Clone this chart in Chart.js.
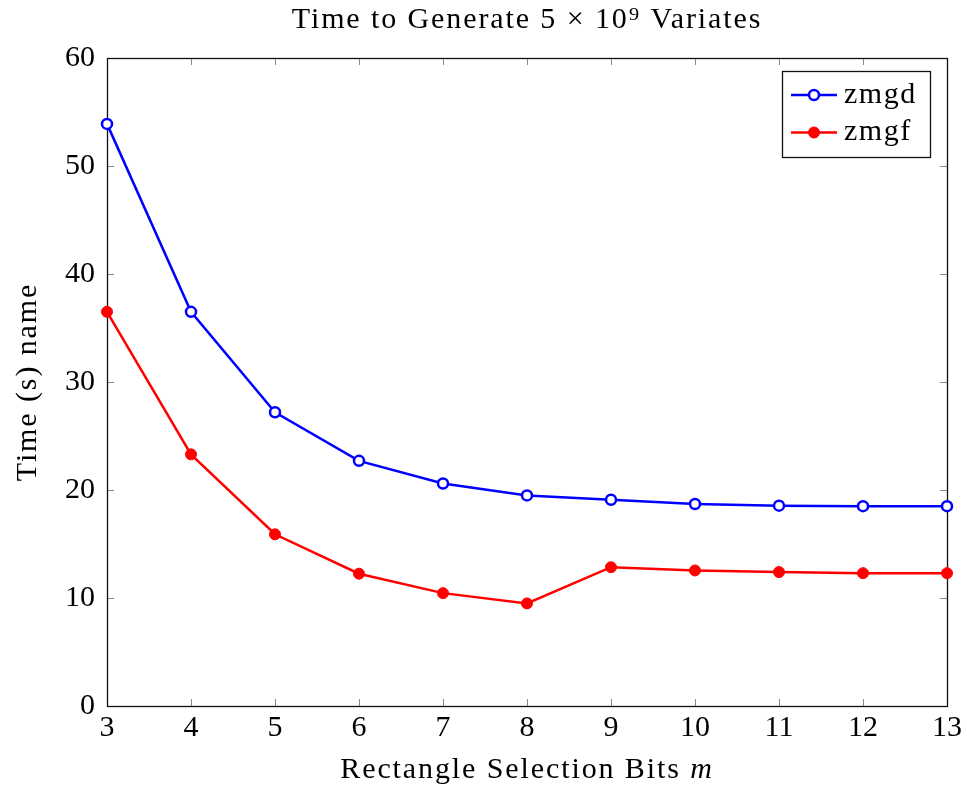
<!DOCTYPE html>
<html>
<head>
<meta charset="utf-8">
<script src="https://cdn.jsdelivr.net/npm/chart.js@4/dist/chart.umd.min.js"></script>
<style>
  html, body { margin: 0; padding: 0; background: #fff; }
  #wrap { width: 967px; height: 788px; position: relative; }
</style>
</head>
<body>
<div id="wrap"><canvas id="c" width="967" height="788"></canvas></div>
<script>
const categories = [3, 4, 5, 6, 7, 8, 9, 10, 11, 12, 13];
const zmgd = [53.9, 36.5, 27.2, 22.7, 20.6, 19.5, 19.1, 18.7, 18.55, 18.5, 18.5];
const zmgf = [36.5, 23.3, 15.9, 12.25, 10.45, 9.5, 12.85, 12.55, 12.4, 12.3, 12.3];
const seriesNames = ['zmgd', 'zmgf'];
const yTicks = [0, 10, 20, 30, 40, 50, 60];
const chartTitle = 'Time to Generate 5 × 10⁹ Variates';
const xTitleMain = 'Rectangle Selection Bits ';
const xTitleVar = 'm';
const yTitle = 'Time (s) name';

const FONT = "'Liberation Serif', 'DejaVu Serif', serif";
const SPACING = '1.9px';

const toPts = arr => categories.map((x, i) => ({x: x, y: arr[i]}));

const framePlugin = {
  id: 'frame',
  afterLayout(chart) {
    // spaced-out titles (to approximate the wider TeX font), chart title centred on plot area
    const tb = chart.titleBlock;
    if (tb && !tb._patched) {
      const orig = tb.draw;
      tb.draw = function () {
        const a = chart.chartArea;
        const dx = (a.left + a.right) / 2 - (this.left + this.right) / 2;
        this.ctx.save();
        this.ctx.letterSpacing = SPACING;
        this.ctx.translate(dx, 0);
        orig.call(this);
        this.ctx.restore();
      };
      tb._patched = true;
    }
    const ys = chart.scales.y;
    if (ys && !ys._patched) {
      const o = ys.drawTitle;
      ys.drawTitle = function () {
        this.ctx.save();
        this.ctx.letterSpacing = SPACING;
        o.call(this);
        this.ctx.restore();
      };
      ys._patched = true;
    }
    const xs = chart.scales.x;
    if (xs && !xs._patched) {
      xs.drawTitle = function () {
        const ctx = this.ctx;
        const a = chart.chartArea;
        ctx.save();
        ctx.letterSpacing = SPACING;
        ctx.fillStyle = '#000';
        ctx.textBaseline = 'alphabetic';
        ctx.textAlign = 'left';
        const nf = '30px ' + FONT, itf = 'italic 30px ' + FONT;
        ctx.font = nf; const w1 = ctx.measureText(xTitleMain).width;
        ctx.font = itf; const w2 = ctx.measureText(xTitleVar).width;
        const x0 = (a.left + a.right) / 2 - (w1 + w2) / 2;
        const y = this.bottom - 10;
        ctx.font = nf; ctx.fillText(xTitleMain, x0, y);
        ctx.font = itf; ctx.fillText(xTitleVar, x0 + w1, y);
        ctx.restore();
      };
      xs._patched = true;
    }
  },
  beforeDatasetsDraw(chart) {
    const {ctx, chartArea: a, scales} = chart;
    const tl = 7;
    ctx.save();
    ctx.strokeStyle = '#888';
    ctx.lineWidth = 1;
    ctx.beginPath();
    scales.x.ticks.forEach(t => {
      const px = Math.round(scales.x.getPixelForValue(t.value)) + 0.5;
      ctx.moveTo(px, a.bottom); ctx.lineTo(px, a.bottom - tl);
      ctx.moveTo(px, a.top); ctx.lineTo(px, a.top + tl);
    });
    scales.y.ticks.forEach(t => {
      const py = Math.round(scales.y.getPixelForValue(t.value)) + 0.5;
      ctx.moveTo(a.left, py); ctx.lineTo(a.left + tl, py);
      ctx.moveTo(a.right, py); ctx.lineTo(a.right - tl, py);
    });
    ctx.stroke();
    ctx.strokeStyle = '#111';
    ctx.lineWidth = 1.3;
    ctx.strokeRect(Math.round(a.left) + 0.5, Math.round(a.top) + 0.5,
                   Math.round(a.right - a.left), Math.round(a.bottom - a.top));
    ctx.restore();
  },
  afterDraw(chart) {
    // legend: line + marker sample, as in the original
    const {ctx, chartArea: a} = chart;
    const bx = a.right - 165, by = a.top + 13, bw = 148, bh = 86;
    ctx.save();
    ctx.fillStyle = '#fff';
    ctx.fillRect(bx, by, bw, bh);
    ctx.strokeStyle = '#111';
    ctx.lineWidth = 1.3;
    ctx.strokeRect(bx + 0.5, by + 0.5, bw, bh);
    chart.data.datasets.forEach((ds, i) => {
      const cy = by + 24 + i * 37.5;
      const x0 = bx + 9, x1 = bx + 55, mx = (x0 + x1) / 2;
      ctx.strokeStyle = ds.borderColor;
      ctx.lineWidth = ds.borderWidth;
      ctx.beginPath(); ctx.moveTo(x0, cy); ctx.lineTo(x1, cy); ctx.stroke();
      ctx.beginPath(); ctx.arc(mx, cy, ds.pointRadius, 0, Math.PI * 2);
      ctx.fillStyle = ds.pointBackgroundColor;
      ctx.fill();
      ctx.lineWidth = ds.pointBorderWidth;
      ctx.strokeStyle = ds.pointBorderColor;
      ctx.stroke();
      ctx.fillStyle = '#000';
      ctx.font = '30px ' + FONT;
      ctx.letterSpacing = '1.5px';
      ctx.textBaseline = 'middle';
      ctx.textAlign = 'left';
      ctx.fillText(ds.label, bx + 62, cy);
    });
    ctx.restore();
  }
};

new Chart(document.getElementById('c'), {
  type: 'line',
  data: {
    datasets: [
      {
        label: seriesNames[0], data: toPts(zmgd),
        borderColor: '#0000ff', borderWidth: 2.5,
        pointRadius: 5, pointBorderWidth: 2.5,
        pointBackgroundColor: '#ffffff', pointBorderColor: '#0000ff',
        fill: false, tension: 0, clip: false
      },
      {
        label: seriesNames[1], data: toPts(zmgf),
        borderColor: '#ff0000', borderWidth: 2.5,
        pointRadius: 5.5, pointBorderWidth: 1,
        pointBackgroundColor: '#ff0000', pointBorderColor: '#ff0000',
        fill: false, tension: 0, clip: false
      }
    ]
  },
  options: {
    responsive: false,
    animation: false,
    events: [],
    layout: { padding: { left: 0, right: 20, top: 0, bottom: 0 } },
    plugins: {
      legend: { display: false },
      tooltip: { enabled: false },
      title: {
        display: true, text: chartTitle, color: '#000',
        font: { family: FONT, size: 30, weight: 'normal' },
        padding: { top: 2, bottom: 20 }
      }
    },
    scales: {
      x: {
        type: 'linear', min: 3, max: 13,
        afterBuildTicks: s => { s.ticks = categories.map(v => ({value: v})); },
        afterFit: s => { s.height = 82; },
        grid: { display: false, drawTicks: false },
        border: { display: false },
        ticks: { color: '#000', padding: 4, maxRotation: 0,
                 font: { family: FONT, size: 30 } },
        title: { display: true, text: xTitleMain + xTitleVar, color: '#000',
                 font: { family: FONT, size: 30 }, padding: { top: 0, bottom: 0 } }
      },
      y: {
        type: 'linear', min: 0, max: 60,
        afterBuildTicks: s => { s.ticks = yTicks.map(v => ({value: v})); },
        afterFit: s => { s.width = 107; },
        grid: { display: false, drawTicks: false },
        border: { display: false },
        ticks: { color: '#000', padding: 12,
                 font: { family: FONT, size: 30 } },
        title: { display: true, text: yTitle, color: '#000',
                 font: { family: FONT, size: 30 }, padding: { top: 10, bottom: 0 } }
      }
    }
  },
  plugins: [framePlugin]
});
</script>
</body>
</html>
